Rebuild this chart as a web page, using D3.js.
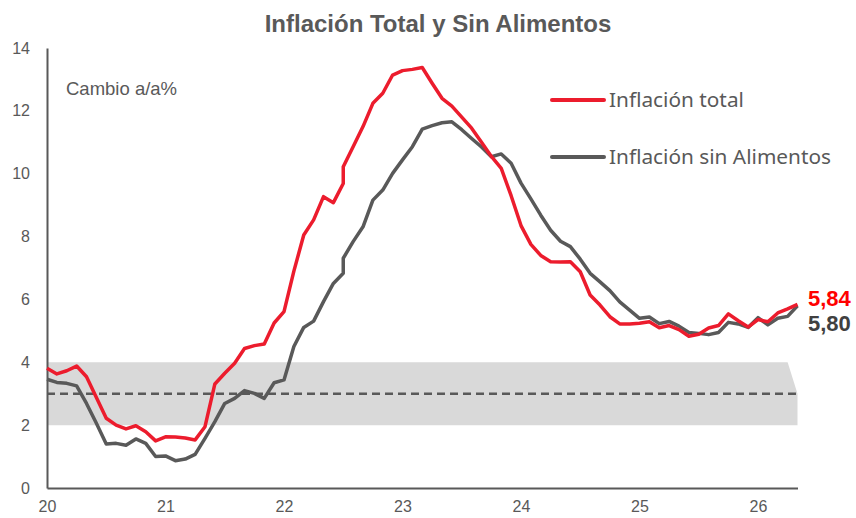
<!DOCTYPE html>
<html>
<head>
<meta charset="utf-8">
<script src="https://cdn.jsdelivr.net/npm/d3@7"></script>
<style>
  body { margin: 0; background: #fff; }
  svg { display: block; font-family: "Liberation Sans", Arial, sans-serif; }
</style>
</head>
<body>
<div id="chart"></div>
<script>
// months since Jan 2020 (month 30 appears twice: the series jump there)
var meses = d3.range(0, 31).concat([30], d3.range(31, 77));

// year-on-year change, %
var inflacionTotal = [
  3.81, 3.63, 3.73, 3.88, 3.54, 2.88, 2.22, 2.00, 1.88, 1.98, 1.79, 1.50,
  1.63, 1.62, 1.59, 1.53, 1.95, 3.31, 3.65, 3.97, 4.44, 4.53, 4.58, 5.25,
  5.61, 6.90, 8.05, 8.53, 9.27, 9.08, 9.69, 10.22, 10.86, 11.50, 12.24, 12.56,
  13.14, 13.28, 13.32, 13.38, 12.88, 12.40, 12.15, 11.80, 11.45, 11.00, 10.55, 10.17,
  9.30, 8.35, 7.75, 7.40, 7.20, 7.19, 7.20, 6.88, 6.14, 5.82, 5.45, 5.22,
  5.22, 5.24, 5.29, 5.10, 5.17, 5.04, 4.83, 4.89, 5.09, 5.17, 5.54, 5.32,
  5.12, 5.36, 5.29, 5.57, 5.70, 5.84
];

var inflacionSinAlimentos = [
  3.46, 3.36, 3.33, 3.25, 2.69, 2.06, 1.40, 1.42, 1.36, 1.56, 1.42, 1.00,
  1.02, 0.87, 0.92, 1.07, 1.58, 2.11, 2.69, 2.85, 3.10, 3.01, 2.85, 3.35,
  3.44, 4.50, 5.11, 5.31, 5.93, 6.51, 6.83, 7.31, 7.84, 8.31, 9.16, 9.48,
  10.01, 10.44, 10.86, 11.42, 11.53, 11.62, 11.65, 11.40, 11.12, 10.85, 10.54, 10.63,
  10.33, 9.70, 9.20, 8.68, 8.20, 7.85, 7.68, 7.28, 6.83, 6.56, 6.28, 5.92,
  5.66, 5.40, 5.44, 5.23, 5.30, 5.15, 4.95, 4.92, 4.88, 4.95, 5.27, 5.22,
  5.11, 5.42, 5.19, 5.40, 5.46, 5.80
];

// target band (lower / upper) and centre
var bandaInferior = meses.map(function() { return 2; });
var bandaSuperior = meses.map(function(m, i) { return i === meses.length - 1 ? 3 : 4; });
var meta = 3;

var yTicks = [0, 2, 4, 6, 8, 10, 12, 14];
var xTicks = [0, 12, 24, 36, 48, 60, 72];
var xTickLabels = ["20", "21", "22", "23", "24", "25", "26"];

var series = [
  { nombre: "Inflación total", valores: inflacionTotal, color: "#ec1c2d", etiqueta: "5,84", etiquetaColor: "#ff0000" },
  { nombre: "Inflación sin Alimentos", valores: inflacionSinAlimentos, color: "#595959", etiqueta: "5,80", etiquetaColor: "#404040" }
];

var svgWidth = 856;
var svgHeight = 518;

var svg = d3.select("#chart")
  .append("svg")
  .attr("width", svgWidth)
  .attr("height", svgHeight);

// scales
var x = d3.scaleLinear().domain([0, 76]).range([47, 797.5]);
var y = d3.scaleLinear().domain([0, 14]).range([488, 48]);

// band
var band = d3.area()
  .x(function(d) { return x(d[0]); })
  .y0(function(d) { return y(d[1]); })
  .y1(function(d) { return y(d[2]); });

svg.append("path")
  .datum(meses.map(function(m, i) { return [m, bandaInferior[i], bandaSuperior[i]]; }))
  .attr("d", band)
  .attr("fill", "#d9d9d9");

svg.append("line")
  .attr("x1", x(0))
  .attr("x2", x(76))
  .attr("y1", y(meta))
  .attr("y2", y(meta))
  .attr("stroke", "#595959")
  .attr("stroke-width", 2.5)
  .attr("stroke-dasharray", "8,5");

// axes
var leftAxis = d3.axisLeft(y).tickValues(yTicks).tickSize(0).tickSizeOuter(0).tickPadding(17);
var bottomAxis = d3.axisBottom(x).tickValues(xTicks).tickSize(0).tickSizeOuter(0).tickPadding(13)
  .tickFormat(function(d, i) { return xTickLabels[i]; });

var yAxis = svg.append("g")
  .attr("transform", "translate(" + x(0) + ",0)")
  .call(leftAxis);

var xAxis = svg.append("g")
  .attr("transform", "translate(0," + y(0) + ")")
  .call(bottomAxis);

[xAxis, yAxis].forEach(function(g) {
  g.select(".domain").attr("stroke", "#595959").attr("stroke-width", 2);
  g.selectAll("text")
    .attr("fill", "#595959")
    .style("font-size", "16px")
    .style("font-family", "Liberation Sans, Arial, sans-serif");
});

// lines
var line = d3.line()
  .x(function(d) { return x(d[0]); })
  .y(function(d) { return y(d[1]); })
  .curve(d3.curveLinear);

series.slice().reverse().forEach(function(s) {
  svg.append("path")
    .datum(meses.map(function(m, i) { return [m, s.valores[i]]; }))
    .attr("d", line)
    .attr("fill", "none")
    .attr("stroke", s.color)
    .attr("stroke-width", 3.5)
    .attr("stroke-linejoin", "round");
});

// end labels
svg.append("text")
  .attr("x", 808)
  .attr("y", 306)
  .attr("fill", series[0].etiquetaColor)
  .style("font-weight", "bold")
  .style("font-size", "22px")
  .text(series[0].etiqueta);

svg.append("text")
  .attr("x", 808)
  .attr("y", 331)
  .attr("fill", series[1].etiquetaColor)
  .style("font-weight", "bold")
  .style("font-size", "22px")
  .text(series[1].etiqueta);

// title
svg.append("text")
  .attr("x", 438)
  .attr("y", 32)
  .attr("text-anchor", "middle")
  .attr("fill", "#595959")
  .style("font-weight", "bold")
  .style("font-size", "24px")
  .text("Inflación Total y Sin Alimentos");

// unit note
svg.append("text")
  .attr("x", 66)
  .attr("y", 95)
  .attr("fill", "#595959")
  .style("font-size", "18.5px")
  .text("Cambio a/a%");

// legend
var legend = svg.append("g");
series.forEach(function(s, i) {
  var ly = 100 + i * 57;
  legend.append("line")
    .attr("x1", 552)
    .attr("x2", 604)
    .attr("y1", ly)
    .attr("y2", ly)
    .attr("stroke", s.color)
    .attr("stroke-width", 4)
    .attr("stroke-linecap", "round");
  legend.append("text")
    .attr("x", 609)
    .attr("y", ly + 7)
    .attr("fill", "#595959")
    .style("font-family", "Noto Sans, sans-serif")
    .style("font-size", "20.8px")
    .text(s.nombre);
});
</script>
</body>
</html>
